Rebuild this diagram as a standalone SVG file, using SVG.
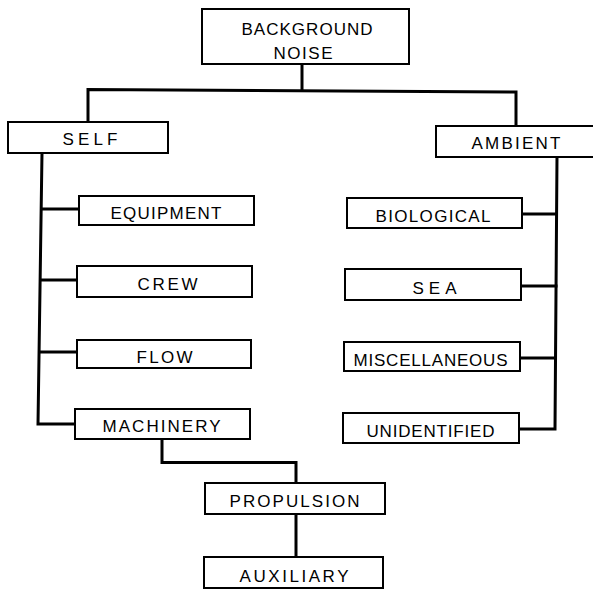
<svg xmlns="http://www.w3.org/2000/svg" width="593" height="591" viewBox="0 0 593 591">
<style>
.box{fill:#fff;stroke:#000;stroke-width:2}
.lbl{font-family:"Liberation Sans",Arial,sans-serif;font-size:17px;fill:#000;text-anchor:middle}
.con{fill:none;stroke:#000;stroke-width:3;stroke-linejoin:miter;stroke-linecap:square}
</style>
<rect width="593" height="591" fill="#fff"/>
<g id="connectors">
<polyline class="con" points="302,64 302,90"/>
<polyline class="con" points="88,122 88,89.5 516,92 516,126"/>
<polyline class="con" points="42,153 38,424 75,424"/>
<line class="con" x1="41.5" y1="209" x2="79" y2="209"/>
<line class="con" x1="41" y1="280" x2="77" y2="280"/>
<line class="con" x1="40" y1="352" x2="77" y2="352"/>
<polyline class="con" points="557,157 555,429 519,429"/>
<line class="con" x1="522" y1="214" x2="556.5" y2="214"/>
<line class="con" x1="521" y1="286" x2="556" y2="286"/>
<line class="con" x1="520" y1="358" x2="555.5" y2="358"/>
<polyline class="con" points="162,439 162,462.5 296,462.5 296,483"/>
<line class="con" x1="296" y1="514" x2="296" y2="557"/>
</g>
<g id="background-noise">
<rect class="box" x="202" y="9" width="207" height="55"/>
<text class="lbl" x="307" y="34.5" textLength="131" lengthAdjust="spacing">BACKGROUND</text>
<text class="lbl" x="303" y="58.5" textLength="59" lengthAdjust="spacing">NOISE</text>
</g>
<g id="self">
<rect class="box" x="8" y="122" width="160" height="31"/>
<text class="lbl" x="90" y="144.5" textLength="55" lengthAdjust="spacing">SELF</text>
</g>
<g id="ambient">
<rect class="box" x="436" y="126" width="158" height="31"/>
<text class="lbl" x="516" y="148.5" textLength="89" lengthAdjust="spacing">AMBIENT</text>
</g>
<g id="equipment">
<rect class="box" x="79" y="196" width="175" height="29"/>
<text class="lbl" x="166" y="218.5" textLength="111" lengthAdjust="spacing">EQUIPMENT</text>
</g>
<g id="crew">
<rect class="box" x="77" y="266" width="175" height="31"/>
<text class="lbl" x="167.5" y="289.5" textLength="60" lengthAdjust="spacing">CREW</text>
</g>
<g id="flow">
<rect class="box" x="77" y="340" width="174" height="28"/>
<text class="lbl" x="164.5" y="362.5" textLength="56" lengthAdjust="spacing">FLOW</text>
</g>
<g id="machinery">
<rect class="box" x="75" y="409" width="175" height="30"/>
<text class="lbl" x="161.5" y="431.5" textLength="118" lengthAdjust="spacing">MACHINERY</text>
</g>
<g id="biological">
<rect class="box" x="347" y="198" width="175" height="30"/>
<text class="lbl" x="433" y="221.5" textLength="115" lengthAdjust="spacing">BIOLOGICAL</text>
</g>
<g id="sea">
<rect class="box" x="345" y="269" width="176" height="31"/>
<text class="lbl" x="434.5" y="293.5" textLength="44" lengthAdjust="spacing">SEA</text>
</g>
<g id="miscellaneous">
<rect class="box" x="344" y="342" width="176" height="29"/>
<text class="lbl" x="430.5" y="365.5" textLength="154" lengthAdjust="spacing">MISCELLANEOUS</text>
</g>
<g id="unidentified">
<rect class="box" x="343" y="413" width="176" height="30"/>
<text class="lbl" x="430.5" y="436.5" textLength="128" lengthAdjust="spacing">UNIDENTIFIED</text>
</g>
<g id="propulsion">
<rect class="box" x="205" y="483" width="180" height="31"/>
<text class="lbl" x="294.5" y="506.5" textLength="130" lengthAdjust="spacing">PROPULSION</text>
</g>
<g id="auxiliary">
<rect class="box" x="204" y="557" width="179" height="31"/>
<text class="lbl" x="294" y="581.5" textLength="109" lengthAdjust="spacing">AUXILIARY</text>
</g>
</svg>
